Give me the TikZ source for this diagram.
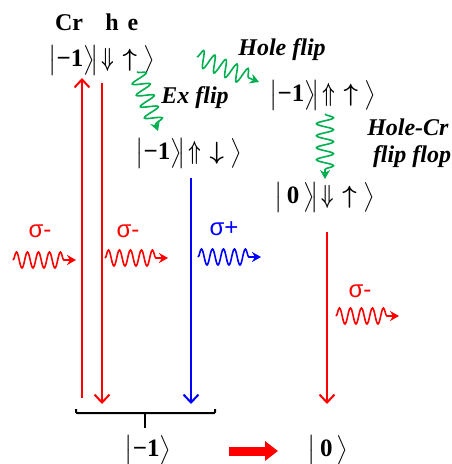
\RequirePackage{fix-cm}
\documentclass[tikz,border=0pt]{standalone}
\usepackage{amsmath}
\usepackage{graphicx}
\usepackage{fontspec}
\setmainfont{Liberation Serif}
\newfontfamily\sigfont{Liberation Sans}
\usetikzlibrary{arrows.meta,decorations.pathmorphing,calc}
\definecolor{wgreen}{RGB}{0,176,80}
\newcommand{\bk}[1]{\bigl|#1\bigr\rangle}
\newcommand{\mone}{\textbf{−1}}
\newcommand{\zer}{\hspace{4pt}\textbf{0}\hspace{4pt}}
\newcommand{\DA}{\scalebox{0.7}[1.05]{$\boldsymbol{\Downarrow}$}}
\newcommand{\UA}{\scalebox{0.7}[1.05]{$\boldsymbol{\Uparrow}$}}
\newcommand{\ua}{\boldsymbol{\uparrow}}
\newcommand{\da}{\boldsymbol{\downarrow}}
\newcommand{\spn}[2]{\hspace{2pt}#1\hspace{2pt}#2\hspace{7pt}}
\tikzset{
  txt/.style={inner sep=0pt, font=\fontsize{24}{28}\selectfont},
  sig/.style={inner sep=0pt, anchor=base, font=\sigfont\fontsize{24}{28}\selectfont},
  ketnode/.style={inner sep=0pt, font=\fontsize{25}{24}\selectfont},
  wavy/.style={line width=1.6pt, decorate,
    decoration={snake, amplitude=8pt, segment length=11pt, post length=7pt},
    -{Stealth[length=9pt,width=10pt]}},
  gwavy/.style={line width=1.6pt, wgreen, decorate,
    decoration={snake, amplitude=8.5pt, segment length=12pt, post length=7pt},
    -{Stealth[length=9pt,width=10pt]}},
  trans/.style={line width=2pt, -{Straight Barb[length=8pt,width=15pt]}},
}
\begin{document}
\begin{tikzpicture}[x=1pt,y=-1pt]
\useasboundingbox (0,0) rectangle (452,464);

% header labels
\node[txt, anchor=base] (cr) at (69,30) {\textbf{Cr}};
\node[txt, anchor=base] (h) at (112,30) {\textbf{h}};
\node[txt, anchor=base] (e) at (133,30) {\textbf{e}};

% kets
\node[ketnode] (k1) at (102,60) {$\bk{\mone}\!\bk{\spn{\DA}{\ua}}$};
\node[ketnode] (k2) at (189,153) {$\bk{\mone}\!\bk{\spn{\UA}{\da}}$};
\node[ketnode] (k3) at (323,95) {$\bk{\mone}\!\bk{\spn{\UA}{\ua}}$};
\node[ketnode] (k4) at (325,197) {$\bk{\zer}\!\bk{\spn{\DA}{\ua}}$};
\node[ketnode] (b1) at (148,450) {$\bk{\mone}$};
\node[ketnode] (b0) at (328,450) {$\bk{\zer}$};

% flip labels
\node[txt, anchor=base] (exf) at (195,103) {\textbf{\textit{Ex flip}}};
\node[txt, anchor=base] (hf) at (282,55) {\textbf{\textit{Hole flip}}};
\node[txt, anchor=base] (hc) at (408,135) {\textbf{\textit{Hole-Cr}}};
\node[txt, anchor=base] (ff) at (412,162) {\textbf{\textit{flip flop}}};

% sigma labels
\node[sig, text=red] (s1) at (40,237) {σ-};
\node[sig, text=red] (s2) at (128,237) {σ-};
\node[sig, text=blue] (s3) at (224,235) {σ+};
\node[sig, text=red] (s4) at (360,297) {σ-};

% coordinates for transition lines
\coordinate (u0) at (82,398);
\coordinate (u1) at (82,78);
\coordinate (d0) at (102,83);
\coordinate (d1) at (102,404);
\coordinate (bl0) at (191,178);
\coordinate (bl1) at (191,404);
\coordinate (r0) at (327,232);
\coordinate (r1) at (327,404);

\draw[trans, red] (u0) -- (u1);
\draw[trans, red] (d0) -- (d1);
\draw[trans, blue] (bl0) -- (bl1);
\draw[trans, red] (r0) -- (r1);

% photon wavy arrows
\coordinate (w1a) at (13,260); \coordinate (w1b) at (76,260);
\coordinate (w2a) at (105,258); \coordinate (w2b) at (168,258);
\coordinate (w3a) at (198,257); \coordinate (w3b) at (261,257);
\coordinate (w4a) at (336,316); \coordinate (w4b) at (399,316);
\draw[wavy, red] (w1a) -- (w1b);
\draw[wavy, red] (w2a) -- (w2b);
\draw[wavy, blue] (w3a) -- (w3b);
\draw[wavy, red] (w4a) -- (w4b);

% green flip arrows
\coordinate (g1a) at (137,72); \coordinate (g1b) at (158,131);
\coordinate (g2a) at (197,57); \coordinate (g2b) at (259,82);
\coordinate (g3a) at (325,114); \coordinate (g3b) at (325,179);
\draw[gwavy] (g1a) -- (g1b);
\draw[gwavy] (g2a) -- (g2b);
\draw[gwavy] (g3a) -- (g3b);

% bracket
\coordinate (brl) at (76,409);
\coordinate (brr) at (215,409);
\coordinate (brm) at (145,413);
\coordinate (brt) at (145,428);
\draw[line width=2pt, rounded corners=1pt] (brl) -- ++(0,4) -- ($(brr)+(0,4)$) -- (brr);
\draw[line width=2pt] (brm) -- (brt);

% thick arrow
\coordinate (ta) at (229,451);
\coordinate (tb) at (278,451);
\draw[red, line width=9pt, -{Triangle[length=13pt,width=19pt]}] (ta) -- (tb);
\end{tikzpicture}
\end{document}
